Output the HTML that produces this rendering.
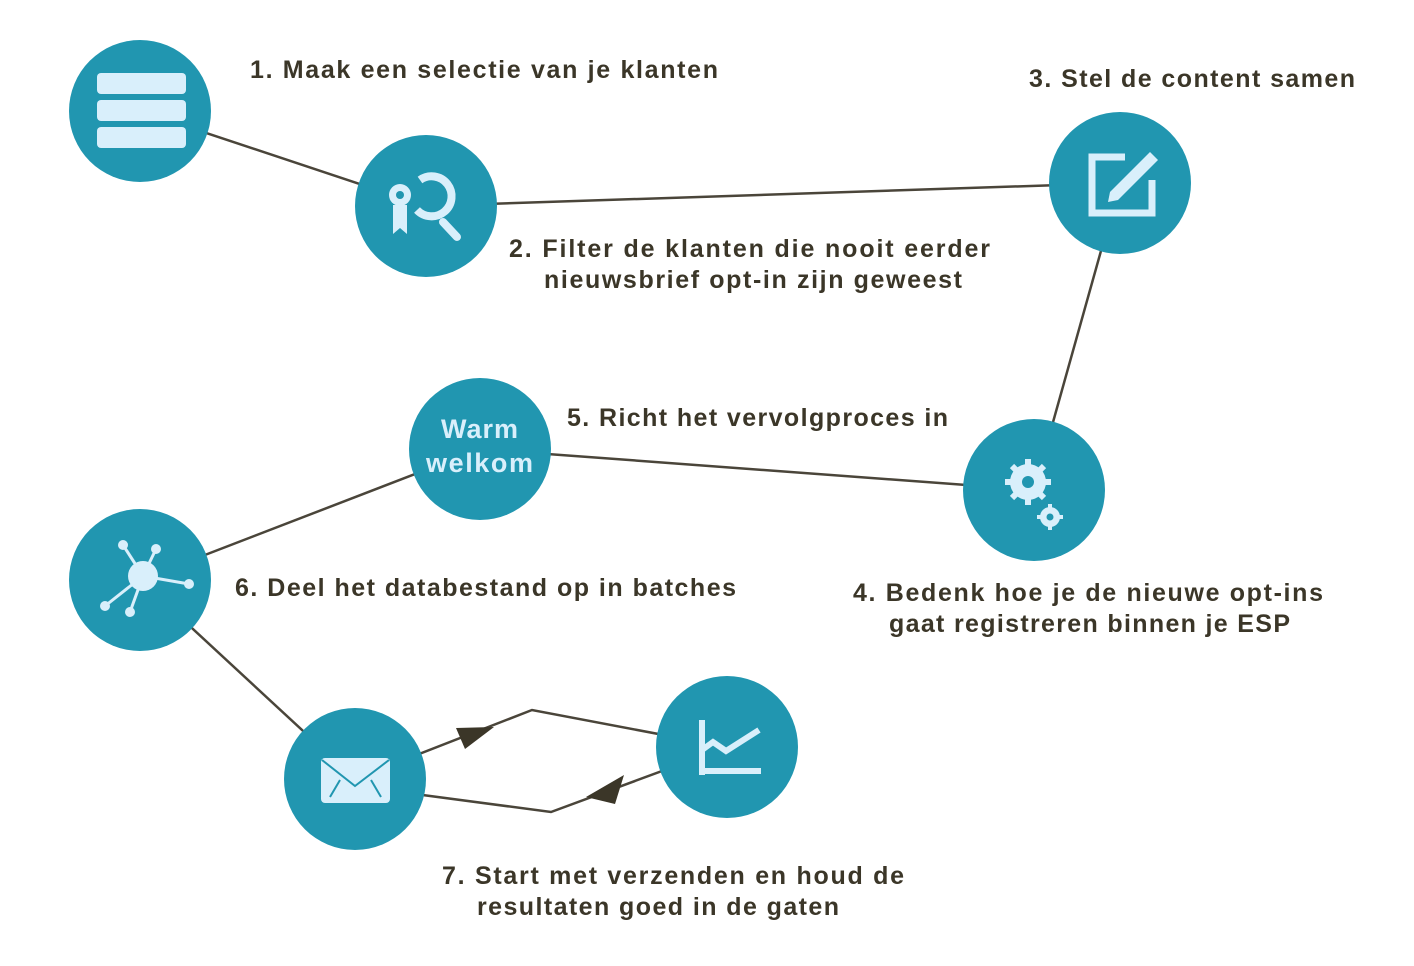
<!DOCTYPE html>
<html><head><meta charset="utf-8"><style>
html,body{margin:0;padding:0;background:#fff;}
svg{display:block}
text{font-family:"Liberation Sans",sans-serif;font-size:25px;font-weight:bold;fill:#3b3628;}
</style></head><body>
<svg width="1414" height="966" viewBox="0 0 1414 966" xmlns="http://www.w3.org/2000/svg">
<g stroke="#4a453a" stroke-width="2.5" fill="none">
<line x1="140" y1="111" x2="426" y2="206"/>
<line x1="426" y1="206" x2="1120" y2="183"/>
<line x1="1120" y1="183" x2="1034" y2="490"/>
<line x1="1034" y1="490" x2="480" y2="449"/>
<line x1="480" y1="449" x2="140" y2="580"/>
<line x1="140" y1="580" x2="355" y2="779"/>
<polyline points="355,779 532,710 727,747"/>
<polyline points="355,786 551,812 727,747"/>
</g>
<polygon points="456,728 494,727 465,749" fill="#3b3628"/>
<polygon points="624,775 586,797 615,804" fill="#3b3628"/>
<g fill="#2196b0">
<circle cx="140" cy="111" r="71"/>
<circle cx="426" cy="206" r="71"/>
<circle cx="1120" cy="183" r="71"/>
<circle cx="1034" cy="490" r="71"/>
<circle cx="480" cy="449" r="71"/>
<circle cx="140" cy="580" r="71"/>
<circle cx="355" cy="779" r="71"/>
<circle cx="727" cy="747" r="71"/>
</g>
<g fill="#d9effb">
<rect x="97" y="73" width="89" height="21" rx="4"/>
<rect x="97" y="100" width="89" height="21" rx="4"/>
<rect x="97" y="127" width="89" height="21" rx="4"/>
<circle cx="400" cy="195" r="11"/>
<polygon points="393,205 393,234 400,228 407,234 407,205"/>
<rect x="321" y="758" width="69" height="45" rx="4"/>
<rect x="699" y="720" width="6" height="55"/>
<rect x="699" y="768" width="62" height="6"/>
<circle cx="1028" cy="482" r="18"/>
<circle cx="1050" cy="517" r="10"/>
</g>
<circle cx="400" cy="195" r="4" fill="#2196b0"/>
<path d="M420,180 a20,20 0 1 1 -3,30" stroke="#d9effb" stroke-width="8" fill="none"/>
<line x1="443" y1="222" x2="457" y2="237" stroke="#d9effb" stroke-width="8" stroke-linecap="round"/>
<g stroke="#2196b0" stroke-width="2" fill="none"><polyline points="322,760 355,786 389,760"/><line x1="330" y1="797" x2="340" y2="780"/><line x1="381" y1="797" x2="371" y2="780"/></g>
<polyline points="702,750 713,742 726,751 759,730" stroke="#d9effb" stroke-width="6" fill="none"/>
<path d="M1125,157 H1092 V213 H1152 V180" stroke="#d9effb" stroke-width="7" fill="none"/>
<path d="M1110,192 L1150,152 L1158,160 L1118,200 L1108,202 Z" fill="#d9effb"/>
<g stroke="#d9effb" stroke-width="6"><line x1="1028" y1="459" x2="1028" y2="505"/><line x1="1005" y1="482" x2="1051" y2="482"/><line x1="1012" y1="466" x2="1044" y2="498"/><line x1="1012" y1="498" x2="1044" y2="466"/></g>
<g stroke="#d9effb" stroke-width="4"><line x1="1050" y1="504" x2="1050" y2="530"/><line x1="1037" y1="517" x2="1063" y2="517"/></g>
<circle cx="1028" cy="482" r="6" fill="#2196b0"/><circle cx="1050" cy="517" r="3.5" fill="#2196b0"/>
<g stroke="#d9effb" stroke-width="3"><line x1="143" y1="576" x2="123" y2="545"/><line x1="143" y1="576" x2="156" y2="549"/><line x1="143" y1="576" x2="189" y2="584"/><line x1="143" y1="576" x2="105" y2="606"/><line x1="143" y1="576" x2="130" y2="612"/></g>
<g fill="#d9effb"><circle cx="143" cy="576" r="15"/><circle cx="123" cy="545" r="5"/><circle cx="156" cy="549" r="5"/><circle cx="189" cy="584" r="5"/><circle cx="105" cy="606" r="5"/><circle cx="130" cy="612" r="5"/></g>
<text x="441" y="438" style="fill:#d9effb;font-size:27px" textLength="77" lengthAdjust="spacing">Warm</text>
<text x="426" y="472" style="fill:#d9effb;font-size:27px" textLength="107" lengthAdjust="spacing">welkom</text>
<text x="250" y="78" textLength="468" lengthAdjust="spacing">1. Maak een selectie van je klanten</text>
<text x="1029" y="87" textLength="326" lengthAdjust="spacing">3. Stel de content samen</text>
<text x="509" y="257" textLength="481" lengthAdjust="spacing">2. Filter de klanten die nooit eerder</text>
<text x="544" y="288" textLength="418" lengthAdjust="spacing">nieuwsbrief opt-in zijn geweest</text>
<text x="567" y="426" textLength="381" lengthAdjust="spacing">5. Richt het vervolgproces in</text>
<text x="235" y="596" textLength="501" lengthAdjust="spacing">6. Deel het databestand op in batches</text>
<text x="853" y="601" textLength="470" lengthAdjust="spacing">4. Bedenk hoe je de nieuwe opt-ins</text>
<text x="889" y="632" textLength="401" lengthAdjust="spacing">gaat registreren binnen je ESP</text>
<text x="442" y="884" textLength="462" lengthAdjust="spacing">7. Start met verzenden en houd de</text>
<text x="477" y="915" textLength="362" lengthAdjust="spacing">resultaten goed in de gaten</text>
</svg>
</body></html>
